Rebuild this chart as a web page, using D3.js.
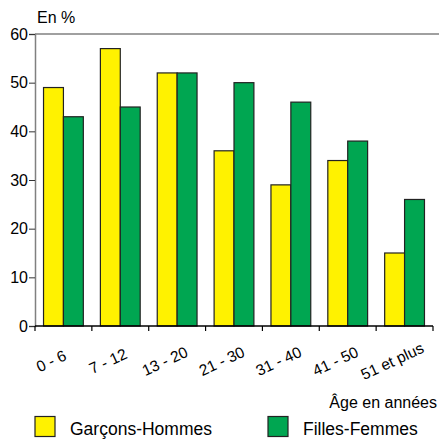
<!DOCTYPE html>
<html>
<head>
<meta charset="utf-8">
<script src="https://cdn.jsdelivr.net/npm/d3@7"></script>
<style>
  body { margin: 0; background: #fff; }
  text { font-family: "Liberation Sans", Arial, sans-serif; fill: #000; }
</style>
</head>
<body>
<div id="viz"></div>
<script>
// tranches d'âge et pourcentages
const categories = ["0 - 6", "7 - 12", "13 - 20", "21 - 30", "31 - 40", "41 - 50", "51 et plus"]
const garcons = [49, 57, 52, 36, 29, 34, 15]
const filles = [43, 45, 52, 50, 46, 38, 26]
const yTicks = [0, 10, 20, 30, 40, 50, 60]
const series = [
  { name: "Garçons-Hommes", values: garcons, color: "#fff200" },
  { name: "Filles-Femmes", values: filles, color: "#00a651" }
]

const width = 439
const height = 441
const margin = { top: 34, right: 6, bottom: 115, left: 35 }
const innerW = 433 - margin.left
const innerH = 326 - margin.top

const svg = d3.select("#viz").append("svg")
  .attr("width", width)
  .attr("height", height)

const g = svg.append("g").attr("transform", `translate(${margin.left},${margin.top})`)

const x = d3.scaleBand().domain(categories).range([0, innerW]).paddingInner(0.3).paddingOuter(0.15)
const xs = d3.scaleBand().domain(series.map(s => s.name)).range([0, x.bandwidth()])
const y = d3.scaleLinear().domain([0, 60]).range([innerH, 0])

// ligne du haut
g.append("line")
  .attr("x1", 0).attr("x2", width - margin.left)
  .attr("y1", 0).attr("y2", 0)
  .attr("stroke", "#808080").attr("stroke-width", 1.5)

// barres
series.forEach(s => {
  g.selectAll(null)
    .data(s.values)
    .enter()
    .append("rect")
    .attr("x", (d, i) => x(categories[i]) + xs(s.name))
    .attr("y", d => y(d))
    .attr("width", xs.bandwidth())
    .attr("height", d => y(0) - y(d))
    .attr("fill", s.color)
    .attr("stroke", "#222")
    .attr("stroke-width", 1.2)
})

// axe y
const yAxis = g.append("g")
  .call(d3.axisLeft(y).tickValues(yTicks).tickSize(6).tickPadding(1))
yAxis.select(".domain").attr("stroke", "#808080").attr("stroke-width", 1.5)
yAxis.selectAll(".tick line").attr("stroke", "#333")
yAxis.selectAll(".tick text").style("font-size", "16px").attr("font-family", null)

// axe x
const xTickPos = d3.range(categories.length + 1).map(i => i * innerW / categories.length)
const xAxis = g.append("g").attr("transform", `translate(0,${innerH})`)
xAxis.append("line").attr("x1", 0).attr("x2", innerW).attr("stroke", "#000").attr("stroke-width", 1.5)
xAxis.selectAll(".tk").data(xTickPos).enter().append("line")
  .attr("x1", d => d).attr("x2", d => d).attr("y1", 0).attr("y2", 5)
  .attr("stroke", "#000").attr("stroke-width", 1.2)
xAxis.selectAll(".lbl").data(categories).enter().append("text")
  .attr("transform", d => `translate(${x(d) + x.bandwidth() / 2 - 10},${40}) rotate(-25)`)
  .attr("text-anchor", "middle")
  .style("font-size", "15.5px")
  .text(d => d)

svg.append("text").attr("x", 37).attr("y", 23).style("font-size", "16px").text("En %")

svg.append("text").attr("x", 437).attr("y", 408).attr("text-anchor", "end")
  .style("font-size", "16px").text("Âge en années")

// légende
const legX = [35, 268]
series.forEach((s, i) => {
  svg.append("rect").attr("x", legX[i]).attr("y", 416.5).attr("width", 20).attr("height", 20)
    .attr("fill", s.color).attr("stroke", "#222").attr("stroke-width", 1.2)
  svg.append("text").attr("x", legX[i] + 35).attr("y", 435).style("font-size", "17.5px").text(s.name)
})
</script>
</body>
</html>
